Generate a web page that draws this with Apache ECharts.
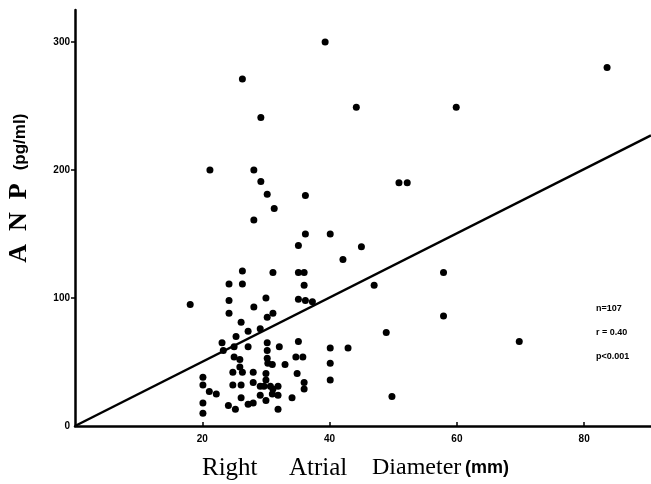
<!DOCTYPE html>
<html>
<head>
<meta charset="utf-8">
<script src="https://cdn.jsdelivr.net/npm/echarts@6/dist/echarts.min.js"></script>
<style>
  html, body { margin: 0; padding: 0; background: #fff; }
  #chart { width: 651px; height: 484px; }
</style>
</head>
<body>
<div id="chart"></div>
<script>
// right atrial diameter (mm) vs ANP (pg/ml)
const diameter = [
  18.1, 21.2, 26.3, 39.3, 44.2, 59.9, 29.2, 28.1, 29.2, 30.2,
  31.3, 28.1, 36.2, 36.2, 40.1, 50.9, 52.2, 83.6, 45.0, 42.1,
  47.0, 57.9, 57.9, 48.9, 69.8, 49.8,
  35.1, 26.3, 31.1, 35.1, 36.0, 24.2, 26.3, 36.0, 24.2, 24.2,
  30.0, 28.1, 31.1, 30.2, 35.1, 36.2, 37.3, 26.1, 27.2, 29.1,
  25.3, 23.1, 23.3, 25.0, 27.2, 30.2, 30.2, 30.2, 30.3, 32.1,
  35.1, 34.7, 35.8, 40.1, 42.9, 25.0, 25.9, 25.9, 31.0, 33.0,
  40.1, 24.8, 26.3, 28.0, 30.0, 34.9, 20.1, 20.1, 21.1, 22.2,
  24.8, 26.1, 28.0, 29.1, 29.7, 30.7, 31.1, 30.0, 31.9, 36.0,
  36.0, 40.1, 29.1, 31.0, 31.9, 26.1, 30.0, 34.1, 20.1, 20.1,
  24.1, 25.2, 27.2, 28.0, 31.9
]
const anp = [
  95, 200, 271, 300, 249, 249, 241, 200, 191, 181,
  170, 161, 180, 150, 150, 190, 190, 280, 140, 130,
  110, 120, 86, 73, 66, 23,
  141, 121, 120, 120, 120, 111, 111, 110, 98, 88,
  100, 93, 88, 85, 99, 98, 97, 81, 74, 76,
  70, 65, 59, 62, 62, 65, 59, 53, 49, 62,
  66, 54, 54, 61, 61, 54, 52, 46, 48, 48,
  49, 42, 42, 42, 41, 41, 38, 32, 27, 25,
  32, 32, 34, 31, 31, 31, 29, 36, 31, 34,
  29, 36, 24, 25, 24, 22, 20, 22, 18, 10,
  16, 13, 17, 18, 13
]
// regression line end points
const lineX = [0, 90.5]
const lineY = [0, 227]

const xTicks = [20, 40, 60, 80]
const yTicks = [100, 200, 300]
const yLabels = [0, 100, 200, 300]
const stats = ['n=107', 'r = 0.40', 'p<0.001']

const points = diameter.map((d, i) => [d, anp[i]])
const linePts = lineX.map((x, i) => [x, lineY[i]])

const chart = echarts.init(document.getElementById('chart'), null, { renderer: 'canvas' })

const tickFont = {
  color: '#000',
  fontFamily: 'Liberation Sans',
  fontWeight: 'bold',
  fontSize: 10
}
const serif = 'Liberation Serif'
const sans = 'Liberation Sans'

// axis titles, word by word
const xWords = [
  { t: 'Right', x: 202, f: '25px "' + serif + '"' },
  { t: 'Atrial', x: 289, f: '25px "' + serif + '"' },
  { t: 'Diameter', x: 372, f: '24px "' + serif + '"' },
  { t: '(mm)', x: 465, f: 'bold 18px "' + sans + '"' }
]

chart.setOption({
  animation: false,
  grid: { left: 75, right: 0, top: 10, bottom: 58 },
  xAxis: {
    type: 'value',
    min: 0,
    max: 90.5,
    axisLine: { lineStyle: { color: '#000', width: 2.5 } },
    axisTick: { inside: true, length: 4, lineStyle: { color: '#000', width: 1.5 }, customValues: xTicks },
    axisLabel: Object.assign({ margin: 8, customValues: xTicks }, tickFont),
    splitLine: { show: false }
  },
  yAxis: {
    type: 'value',
    min: 0,
    max: 325,
    axisLine: { lineStyle: { color: '#000', width: 2.5 } },
    axisTick: { length: 4, lineStyle: { color: '#000', width: 1.5 }, customValues: yTicks },
    axisLabel: Object.assign({ margin: 5, customValues: yLabels }, tickFont),
    splitLine: { show: false }
  },
  series: [
    {
      type: 'scatter',
      data: points,
      symbol: 'circle',
      symbolSize: 7,
      itemStyle: { color: '#000', opacity: 1 }
    },
    {
      type: 'line',
      data: linePts,
      symbol: 'none',
      lineStyle: { color: '#000', width: 2.5 }
    }
  ],
  graphic: [
    ...xWords.map(w => ({
      type: 'text',
      x: w.x,
      y: 468,
      style: { text: w.t, font: w.f, fill: '#000', verticalAlign: 'middle' }
    })),
    {
      type: 'text',
      x: 19,
      y: 223,
      rotation: Math.PI / 2,
      style: {
        text: 'A\u2002N\u2002P',
        font: 'bold 26px "' + serif + '"',
        fill: '#000',
        align: 'center',
        verticalAlign: 'middle'
      }
    },
    {
      type: 'text',
      x: 20,
      y: 142,
      rotation: Math.PI / 2,
      style: {
        text: '(pg/ml)',
        font: 'bold 17px "' + sans + '"',
        fill: '#000',
        align: 'center',
        verticalAlign: 'middle'
      }
    },
    ...stats.map((s, i) => ({
      type: 'text',
      x: 596,
      y: 309 + i * 24,
      style: {
        text: s,
        fill: '#000',
        font: 'bold 9px "Liberation Sans Narrow", "Liberation Sans"',
        verticalAlign: 'middle'
      }
    }))
  ]
})
</script>
</body>
</html>
